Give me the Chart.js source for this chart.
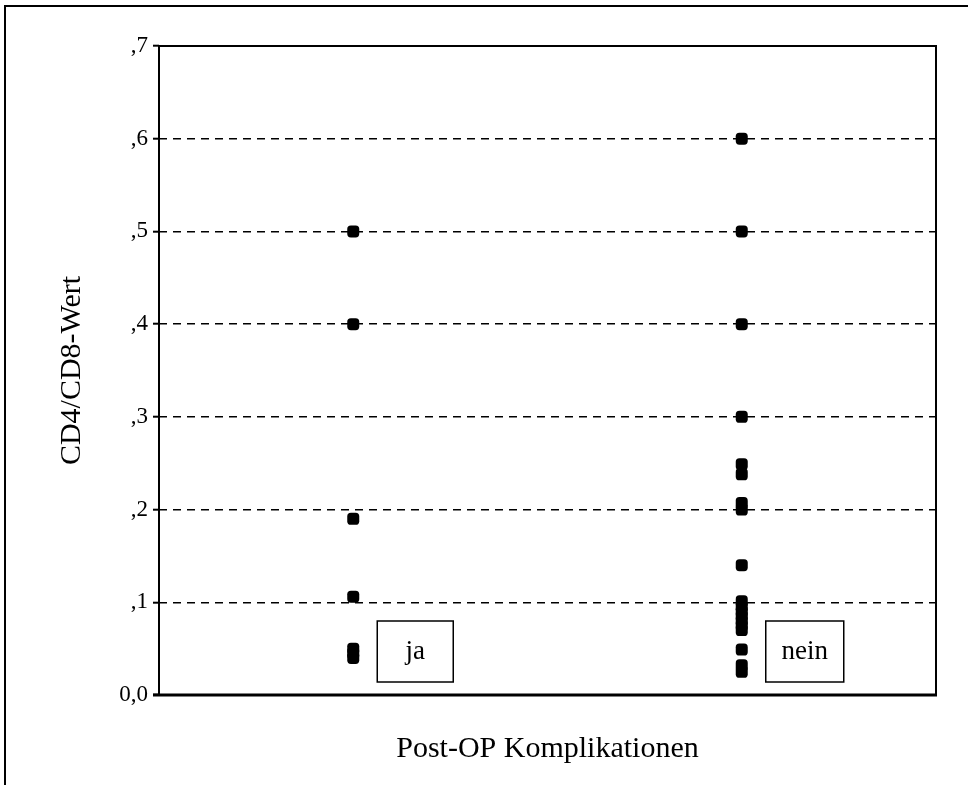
<!DOCTYPE html>
<html>
<head>
<meta charset="utf-8">
<title>CD4/CD8-Wert</title>
<script src="https://cdn.jsdelivr.net/npm/chart.js@4.4.1/dist/chart.umd.min.js"></script>
<style>
  html, body { margin: 0; padding: 0; background: #fff; }
  #wrap { width: 968px; height: 785px; }
</style>
</head>
<body>
<div id="wrap"><canvas id="myChart" width="968" height="785"></canvas></div>
<script>
// gruppen (x) und werte (y)
var categories = ['ja', 'nein'];
var jaWerte = [0.5, 0.4, 0.19, 0.106, 0.05, 0.045, 0.04];
var neinWerte = [0.6, 0.5, 0.4, 0.3, 0.249, 0.238, 0.207, 0.2, 0.14,
                 0.101, 0.095, 0.09, 0.085, 0.08, 0.075, 0.07, 0.049, 0.032, 0.025];
var yTicks = [0, 0.1, 0.2, 0.3, 0.4, 0.5, 0.6, 0.7];
var xTitel = 'Post-OP Komplikationen';
var yTitel = 'CD4/CD8-Wert';

var serif = "'Liberation Serif', 'Times New Roman', serif";
var xPos = [1, 3]; // ja / nein auf einer 0..4 achse

function punkte(werte, idx) {
    var arr = [];
    for (var i = 0; i < werte.length; i++) {
        arr.push({ x: xPos[idx], y: werte[i] });
    }
    return arr;
}

// rahmen, plotbox und die kaestchen "ja"/"nein"
var rahmen = {
    id: 'rahmen',
    beforeDraw: function (chart) {
        var ctx = chart.ctx;
        ctx.save();
        ctx.fillStyle = '#fff';
        ctx.fillRect(0, 0, chart.width, chart.height);
        ctx.strokeStyle = '#000';
        ctx.lineWidth = 2;
        ctx.beginPath();
        ctx.moveTo(5, 785);
        ctx.lineTo(5, 6);
        ctx.lineTo(968, 6);
        ctx.stroke();
        ctx.restore();
    },
    afterDraw: function (chart) {
        var ctx = chart.ctx;
        var a = chart.chartArea;
        var xs = chart.scales.x;
        ctx.save();
        ctx.strokeStyle = '#000';
        ctx.lineWidth = 2;
        ctx.beginPath();
        ctx.moveTo(a.left, a.bottom);
        ctx.lineTo(a.left, a.top);
        ctx.lineTo(a.right, a.top);
        ctx.lineTo(a.right, a.bottom);
        ctx.stroke();
        ctx.lineWidth = 3;
        ctx.beginPath();
        ctx.moveTo(a.left - 6, a.bottom);
        ctx.lineTo(a.right + 1, a.bottom);
        ctx.stroke();

        ctx.font = '27px ' + serif;
        ctx.textAlign = 'center';
        ctx.textBaseline = 'middle';
        ctx.lineWidth = 1.5;
        for (var i = 0; i < categories.length; i++) {
            var px = xs.getPixelForValue(xPos[i]);
            var w = i === 0 ? 76 : 78;
            var bx = px + 24, by = a.bottom - 74;
            ctx.fillStyle = '#fff';
            ctx.fillRect(bx, by, w, 61);
            ctx.strokeRect(bx, by, w, 61);
            ctx.fillStyle = '#000';
            ctx.fillText(categories[i], bx + w / 2, by + 31);
        }
        ctx.restore();
    }
};

var ctx = document.getElementById('myChart');
var myChart = new Chart(ctx, {
    type: 'scatter',
    data: {
        datasets: [{
            label: categories[0],
            data: punkte(jaWerte, 0),
            backgroundColor: '#000',
            borderColor: '#000',
            pointStyle: 'rectRounded',
            pointRadius: 7,
            borderWidth: 0
        }, {
            label: categories[1],
            data: punkte(neinWerte, 1),
            backgroundColor: '#000',
            borderColor: '#000',
            pointStyle: 'rectRounded',
            pointRadius: 7,
            borderWidth: 0
        }]
    },
    options: {
        responsive: false,
        animation: false,
        layout: { padding: { left: 0, top: 46, right: 32, bottom: 0 } },
        plugins: {
            legend: { display: false },
            tooltip: { enabled: false }
        },
        scales: {
            x: {
                type: 'linear',
                min: 0,
                max: 4,
                ticks: { display: false },
                grid: { display: false },
                border: { display: false },
                title: {
                    display: true,
                    text: xTitel,
                    color: '#000',
                    font: { family: serif, size: 30 },
                    padding: { top: 0, bottom: 18 }
                },
                afterFit: function (scale) { scale.height = 90; }
            },
            y: {
                min: 0,
                max: 0.7,
                afterBuildTicks: function (scale) {
                    scale.ticks = yTicks.map(function (v) { return { value: v }; });
                },
                ticks: {
                    color: '#000',
                    padding: 5,
                    font: { family: serif, size: 23 },
                    callback: function (v) {
                        if (v === 0) return '0,0';
                        return ',' + Math.round(v * 10);
                    }
                },
                grid: {
                    color: '#000',
                    lineWidth: 1.4,
                    tickLength: 6,
                    tickColor: '#000',
                    tickWidth: 2,
                    tickBorderDash: []
                },
                border: { display: false, dash: [8, 6] },
                title: {
                    display: true,
                    text: yTitel,
                    color: '#000',
                    font: { family: serif, size: 30 },
                    padding: { top: 54, bottom: 0 }
                },
                afterFit: function (scale) { scale.width = 159; }
            }
        }
    },
    plugins: [rahmen]
});
</script>
</body>
</html>
